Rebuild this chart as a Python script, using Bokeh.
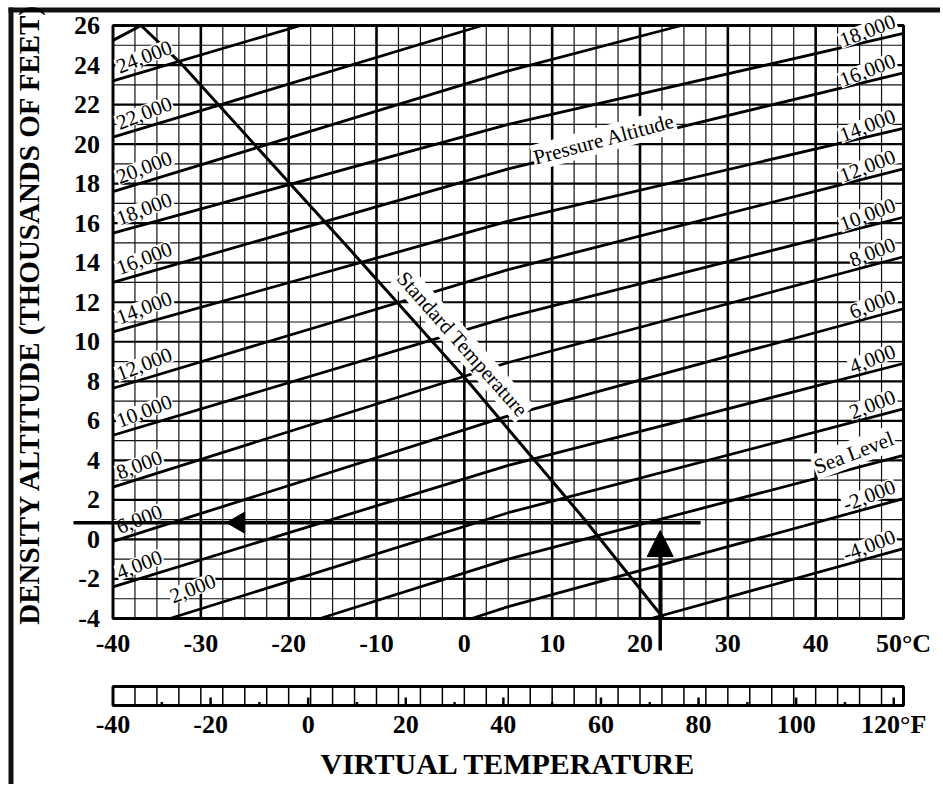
import numpy as np
from bokeh.plotting import figure
from bokeh.models import FixedTicker, Arrow, NormalHead, LinearAxis, Range1d
from bokeh.embed import file_html
from bokeh.resources import INLINE
from bokeh.core.properties import value

# ---------------- data ----------------
celsius_ticks = [-40, -30, -20, -10, 0, 10, 20, 30, 40, 50]
fahrenheit_ticks = [-40, -20, 0, 20, 40, 60, 80, 100, 120]
density_alt_ticks = [-4, -2, 0, 2, 4, 6, 8, 10, 12, 14, 16, 18, 20, 22, 24, 26]

# pressure-altitude lines: density altitude (thousands of ft) read at -40, 5 and 50 deg C
pressure_alt = [-4000, -2000, 0, 2000, 4000, 6000, 8000, 10000, 12000,
                14000, 16000, 18000, 20000, 22000, 24000]
read_temps = [-40, 5, 50]
da_at_m40 = [-12.6, -9.9, -7.3, -4.9, -2.4, -0.1, 2.65, 5.27, 7.65,
             10.5, 13.0, 15.5, 17.6, 20.35, 23.2]
da_at_5 = [-6.0, -3.4, -1.0, 1.35, 3.75, 6.25, 8.95, 11.25, 13.65,
           16.1, 18.75, 21.0, 23.7, 26.4, 29.1]
da_at_50 = [-0.47, 2.06, 4.25, 6.6, 8.9, 11.67, 14.3, 16.3, 18.75,
            20.8, 23.6, 25.6, 28.95, 31.6, 34.2]

# standard-temperature line
std_temp = [-40, -36.8, -32.3, -12.9, 0.4, 13.6, 22.7]
std_da = [25.25, 26.0, 24.1, 14.6, 8.0, 1.06, -4.0]

# worked example: virtual temperature and resulting density altitude
example_temp_c = 22.3
example_da = 0.85

SERIF = "Liberation Serif"
C_MIN, C_MAX = -40, 50
DA_MIN, DA_MAX = -4, 26


def c_to_f(c):
    return c * 9 / 5 + 32


def f_to_c(f):
    return (f - 32) * 5 / 9


def pa_text(pa):
    if pa == 0:
        return "Sea Level"
    return f"{pa:,}"


def clip_y(xs, ys, lo, hi):
    """Clip a polyline to lo <= y <= hi (for drawing inside the chart frame)."""
    ox, oy = [], []
    for i in range(len(xs) - 1):
        x0, y0, x1, y1 = xs[i], ys[i], xs[i + 1], ys[i + 1]
        t0, t1 = 0.0, 1.0
        dy = y1 - y0
        if dy == 0:
            if y0 < lo or y0 > hi:
                continue
        else:
            ta, tb = (lo - y0) / dy, (hi - y0) / dy
            t0, t1 = max(t0, min(ta, tb)), min(t1, max(ta, tb))
            if t0 >= t1:
                continue
        ax, ay = x0 + t0 * (x1 - x0), y0 + t0 * dy
        bx, by = x0 + t1 * (x1 - x0), y0 + t1 * dy
        if not ox or abs(ox[-1] - ax) > 1e-9:
            ox.append(ax)
            oy.append(ay)
        ox.append(bx)
        oy.append(by)
    return ox, oy


# ---------------- canvas geometry (one frame covering the whole canvas) ----------------
W, H = 940, 784
PX_C = 790.5 / 90.0      # pixels per deg C
PX_K = 593.0 / 30.0      # pixels per 1000 ft
X_LO = C_MIN - 112.5 / PX_C
X_HI = X_LO + W / PX_C
Y_HI = DA_MAX + 25.0 / PX_K
Y_LO = Y_HI - H / PX_K

BOX_TOP = Y_HI - 686.0 / PX_K
BOX_BOT = Y_HI - 705.0 / PX_K

p = figure(width=W, height=H, x_range=Range1d(X_LO, X_HI), y_range=Range1d(Y_LO, Y_HI),
           output_backend="svg", toolbar_location=None,
           min_border_left=0, min_border_right=0, min_border_top=0, min_border_bottom=0)
p.xgrid.visible = False
p.ygrid.visible = False
p.outline_line_color = None
p.background_fill_color = "white"
p.border_fill_color = "white"

# page border (thick left and top rules), as filled bars
p.quad(left=[X_LO + 8.0 / PX_C], right=[X_LO + 13.0 / PX_C],
       bottom=[Y_LO], top=[Y_HI - 7.0 / PX_K], fill_color="#111111", line_color=None)
p.quad(left=[X_LO + 8.0 / PX_C], right=[X_HI],
       bottom=[Y_HI - 12.0 / PX_K], top=[Y_HI - 7.0 / PX_K], fill_color="#111111", line_color=None)

# grid: 2.5 C vertical, 1000 ft horizontal
vx = np.arange(C_MIN + 2.5, C_MAX, 2.5)
v_major = [x for x in vx if abs(x % 10) < 1e-9]
v_minor = [x for x in vx if abs(x % 10) >= 1e-9]
hy = np.arange(DA_MIN + 1, DA_MAX, 1)
h_major = [y for y in hy if y % 2 == 0]
h_minor = [y for y in hy if y % 2 != 0]
p.segment(x0=v_minor, y0=DA_MIN, x1=v_minor, y1=DA_MAX, line_color="#111111", line_width=1.2)
p.segment(x0=v_major, y0=DA_MIN, x1=v_major, y1=DA_MAX, line_color="black", line_width=2.6)
p.segment(x0=C_MIN, y0=h_minor, x1=C_MAX, y1=h_minor, line_color="#111111", line_width=1.2)
p.segment(x0=C_MIN, y0=h_major, x1=C_MAX, y1=h_major, line_color="black", line_width=2.2)

# pressure altitude lines (clipped to the chart frame)
pa_xs, pa_ys = [], []
for a, b, c in zip(da_at_m40, da_at_5, da_at_50):
    cx, cy = clip_y(read_temps, [a, b, c], DA_MIN, DA_MAX)
    pa_xs.append(cx)
    pa_ys.append(cy)
p.multi_line(xs=pa_xs, ys=pa_ys, line_color="black", line_width=2.8)

# standard temperature line
p.line(std_temp, std_da, line_color="black", line_width=3)

# chart frame
p.quad(left=[C_MIN], right=[C_MAX], bottom=[DA_MIN], top=[DA_MAX],
       fill_color=None, line_color="black", line_width=3)

# labels on the left end of the lines
lx, ly, lt = [], [], []
for pa, a, b in zip(pressure_alt, da_at_m40, da_at_5):
    if pa < 2000:
        continue
    if a < DA_MIN:
        xc = C_MIN + (DA_MIN - a) / (b - a) * (read_temps[1] - read_temps[0])
        lx.append(xc + 0.3)
        ly.append(DA_MIN + 0.7)
    else:
        lx.append(C_MIN + 0.7)
        ly.append(a + 0.3)
    lt.append(pa_text(pa))
p.text(x=lx, y=ly, text=lt, angle=21, angle_units="deg",
       text_font=value(SERIF), text_font_size="21px", text_color="black",
       text_align="left", text_baseline="bottom",
       background_fill_color="white", padding=1)

# labels on the right end of the lines
rx, ry, rt = [], [], []
for pa, c in zip(pressure_alt, da_at_50):
    if pa > 18000:
        continue
    rx.append(C_MAX - 0.6)
    ry.append(c + 0.3)
    rt.append(pa_text(pa))
p.text(x=rx, y=ry, text=rt, angle=21, angle_units="deg",
       text_font=value(SERIF), text_font_size="21px", text_color="black",
       text_align="right", text_baseline="bottom",
       background_fill_color="white", padding=1)

p.text(x=[8.2], y=[18.65], text=["Pressure Altitude"], angle=15, angle_units="deg",
       text_font=value(SERIF), text_font_size="21px", text_color="black",
       text_align="left", text_baseline="bottom",
       background_fill_color="white", padding=1)
p.text(x=[-8.4], y=[13.0], text=["Standard Temperature"], angle=-48.5, angle_units="deg",
       text_font=value(SERIF), text_font_size="21px", text_color="black",
       text_align="left", text_baseline="bottom",
       background_fill_color="white", padding=1)

# worked example arrows
p.segment(x0=[C_MIN - 4.5], y0=[example_da], x1=[example_temp_c + 4.6], y1=[example_da],
          line_color="black", line_width=3.5)
p.scatter(x=[-25.7], y=[example_da], marker="triangle", angle=90, angle_units="deg",
          size=21, fill_color="black", line_color="black")
p.add_layout(Arrow(end=NormalHead(size=26, fill_color="black", line_color="black"),
                   start=None, x_start=example_temp_c, y_start=DA_MIN - 1.62,
                   x_end=example_temp_c, y_end=example_da - 0.4,
                   line_color="black", line_width=3.5))

# Fahrenheit scale box
p.quad(left=[C_MIN], right=[C_MAX], bottom=[BOX_BOT], top=[BOX_TOP],
       fill_color="white", line_color="black", line_width=3)
cell_c = np.arange(C_MIN + 2.5, C_MAX, 2.5)
p.segment(x0=cell_c, y0=BOX_BOT, x1=cell_c, y1=BOX_TOP, line_color="black", line_width=1.5)
marks_f = np.arange(-30, 121, 10)
marks_c = f_to_c(marks_f)
box_h = BOX_TOP - BOX_BOT
mark_top = [BOX_BOT + (0.42 if m % 20 == 0 else 0.18) * box_h for m in marks_f]
p.segment(x0=marks_c, y0=BOX_BOT, x1=marks_c, y1=mark_top, line_color="black", line_width=2.5)

# ---------------- axes (placed at fixed locations inside the canvas) ----------------
def style_axis(ax):
    ax.axis_line_color = None
    ax.major_tick_line_color = None
    ax.minor_tick_line_color = None
    ax.major_tick_out = 0
    ax.major_tick_in = 0
    ax.minor_tick_out = 0
    ax.minor_tick_in = 0
    ax.major_label_text_font = SERIF
    ax.major_label_text_font_style = "bold"
    ax.major_label_text_font_size = "26px"
    ax.major_label_text_color = "black"
    ax.axis_label_text_font = SERIF
    ax.axis_label_text_font_style = "bold"
    ax.axis_label_text_color = "black"


xa = p.xaxis[0]
xa.ticker = FixedTicker(ticks=celsius_ticks)
xa.major_label_overrides = {t: (f"{t}°C" if t == C_MAX else str(t)) for t in celsius_ticks}
xa.fixed_location = DA_MIN
xa.bounds = (C_MIN, C_MAX)
style_axis(xa)
xa.major_label_standoff = 10

ya = p.yaxis[0]
ya.ticker = FixedTicker(ticks=density_alt_ticks)
ya.major_label_overrides = {t: str(t) for t in density_alt_ticks}
ya.fixed_location = C_MIN
ya.bounds = (DA_MIN, DA_MAX + 0.85)
ya.axis_label = "DENSITY ALTITUDE (THOUSANDS OF FEET)"
style_axis(ya)
ya.major_label_standoff = 13
ya.axis_label_text_font_size = "29px"
ya.axis_label_standoff = 27

p.extra_x_ranges = {"F": Range1d(c_to_f(X_LO), c_to_f(X_HI))}
fa = LinearAxis(x_range_name="F")
fa.ticker = FixedTicker(ticks=fahrenheit_ticks)
fa.major_label_overrides = {t: (f"{t}°F" if t == 120 else str(t)) for t in fahrenheit_ticks}
fa.fixed_location = BOX_BOT
fa.bounds = (c_to_f(C_MIN), c_to_f(C_MAX))
fa.axis_label = "VIRTUAL TEMPERATURE"
style_axis(fa)
fa.major_label_standoff = 4
fa.axis_label_text_font_size = "30px"
fa.axis_label_standoff = 5
p.add_layout(fa, "below")

open("out.html", "w").write(file_html(p, INLINE))
